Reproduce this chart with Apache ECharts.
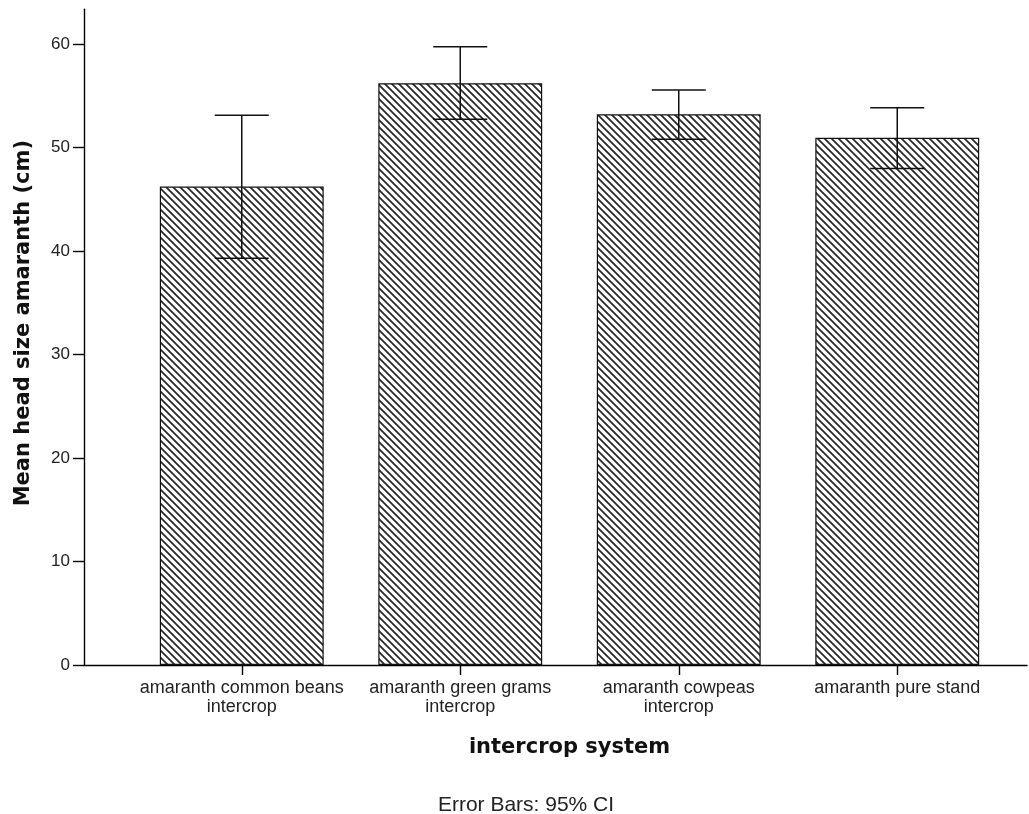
<!DOCTYPE html>
<html>
<head>
<meta charset="utf-8">
<script src="https://cdn.jsdelivr.net/npm/echarts@6/dist/echarts.min.js"></script>
<style>html,body{margin:0;padding:0;background:#fff;}#chart{width:1029px;height:814px;}</style>
</head>
<body>
<div id="chart"></div>
<script>
const categories = ['amaranth common beans\nintercrop', 'amaranth green grams\nintercrop', 'amaranth cowpeas\nintercrop', 'amaranth pure stand'];
const means = [46.24, 56.23, 53.23, 50.97];
const ciLow = [39.31, 52.75, 50.82, 47.98];
const ciHigh = [53.13, 59.77, 55.58, 53.87];
const yTicks = [0, 10, 20, 30, 40, 50, 60];
const yMax = 63.38;

const FONT = '"Liberation Sans", Arial, sans-serif';
const BOLD = '"DejaVu Sans", "Liberation Sans", sans-serif';

function hatch() {
  const s = 7;
  const c = document.createElement('canvas');
  c.width = s; c.height = s;
  const g = c.getContext('2d');
  g.fillStyle = '#ffffff';
  g.fillRect(0, 0, s, s);
  g.strokeStyle = '#262626';
  g.lineWidth = 1.7;
  g.beginPath();
  g.moveTo(-1, -1); g.lineTo(s + 1, s + 1);
  g.moveTo(-s - 1, -1); g.lineTo(1, s + 1);
  g.moveTo(s - 1, -1); g.lineTo(2 * s + 1, s + 1);
  g.stroke();
  return c;
}

const chart = echarts.init(document.getElementById('chart'), null, {renderer: 'canvas'});
const option = {
  backgroundColor: '#ffffff',
  animation: false,
  title: {
    text: 'Error Bars: 95% CI',
    left: 521, top: 790,
    textAlign: 'center',
    textStyle: {fontFamily: FONT, fontSize: 21, fontWeight: 'normal', color: '#222'}
  },
  grid: [
    {left: 84, right: 2, top: 9.3, bottom: 149},
    {left: 132.5, right: 22.5, top: 9.3, bottom: 149}
  ],
  xAxis: [
    {
      gridIndex: 0, type: 'value', min: 0, max: 1,
      axisLine: {show: true, lineStyle: {color: '#000', width: 1.4}},
      axisTick: {show: false}, axisLabel: {show: false}, splitLine: {show: false}
    },
    {
      gridIndex: 1, type: 'category', data: categories, boundaryGap: true,
      axisLine: {show: false},
      axisTick: {show: true, alignWithLabel: true, length: 10, lineStyle: {color: '#000', width: 1.4}},
      axisLabel: {fontFamily: FONT, fontSize: 18, color: '#222', margin: 14, lineHeight: 19, interval: 0},
      name: 'intercrop system', nameLocation: 'middle', nameGap: 72,
      nameTextStyle: {fontFamily: BOLD, fontSize: 21, fontWeight: 'bold', color: '#111'},
      splitLine: {show: false}
    }
  ],
  yAxis: [
    {
      gridIndex: 0, type: 'value', min: 0, max: yMax, interval: 10,
      axisLine: {show: true, lineStyle: {color: '#000', width: 1.4}},
      axisTick: {show: true, length: 11, customValues: yTicks, lineStyle: {color: '#000', width: 1.4}},
      axisLabel: {customValues: yTicks, fontFamily: FONT, fontSize: 17, color: '#222', margin: 14},
      splitLine: {show: false},
      name: 'Mean head size amaranth (cm)', nameLocation: 'middle', nameGap: 50,
      nameTextStyle: {fontFamily: BOLD, fontSize: 21, fontWeight: 'bold', color: '#111', padding: [0, 0, 0, 28]}
    },
    {
      gridIndex: 1, type: 'value', min: 0, max: yMax,
      show: false, splitLine: {show: false}
    }
  ],
  series: [
    {
      type: 'bar', xAxisIndex: 1, yAxisIndex: 1,
      data: means, barWidth: '75%',
      itemStyle: {color: {image: hatch(), repeat: 'repeat'}, borderColor: '#111', borderWidth: 1.2}
    },
    {
      type: 'custom', xAxisIndex: 1, yAxisIndex: 1,
      data: categories.map((c, i) => [i, ciLow[i], ciHigh[i]]),
      z: 10,
      renderItem: function (params, api) {
        const i = api.value(0);
        const lo = api.coord([i, api.value(1)]);
        const hi = api.coord([i, api.value(2)]);
        const hw = 27;
        const st = {stroke: '#111', lineWidth: 1.5};
        return {
          type: 'group',
          children: [
            {type: 'line', shape: {x1: lo[0], y1: lo[1], x2: hi[0], y2: hi[1]}, style: st},
            {type: 'line', shape: {x1: lo[0] - hw, y1: lo[1], x2: lo[0] + hw, y2: lo[1]}, style: st},
            {type: 'line', shape: {x1: hi[0] - hw, y1: hi[1], x2: hi[0] + hw, y2: hi[1]}, style: st}
          ]
        };
      }
    }
  ]
};
chart.setOption(option);
</script>
</body>
</html>
